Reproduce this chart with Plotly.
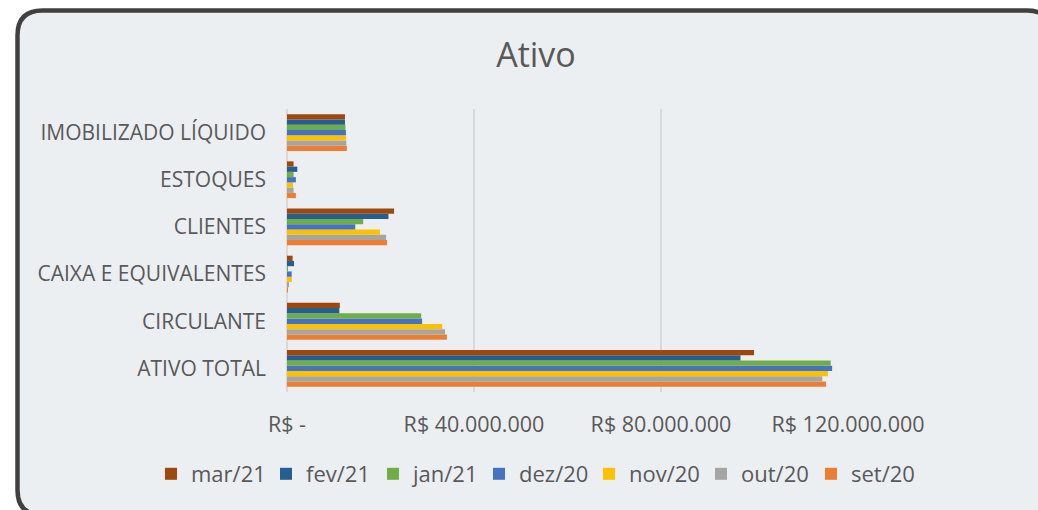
import plotly.graph_objects as go

categories = ["ATIVO TOTAL", "CIRCULANTE", "CAIXA E EQUIVALENTES", "CLIENTES", "ESTOQUES", "IMOBILIZADO LÍQUIDO"]

# values in R$ (order follows categories list)
mar21 = [99.9e6, 11.3e6, 1.2e6, 22.9e6, 1.4e6, 12.4e6]
fev21 = [97.0e6, 11.2e6, 1.5e6, 21.7e6, 2.2e6, 12.4e6]
jan21 = [116.3e6, 28.7e6, 0.05e6, 16.3e6, 1.4e6, 12.5e6]
dez20 = [116.6e6, 28.9e6, 1.0e6, 14.6e6, 1.9e6, 12.6e6]
nov20 = [115.7e6, 33.2e6, 1.05e6, 19.9e6, 1.3e6, 12.6e6]
out20 = [114.5e6, 33.8e6, 0.4e6, 21.2e6, 1.4e6, 12.7e6]
set20 = [115.3e6, 34.2e6, 0.1e6, 21.4e6, 1.9e6, 12.8e6]

series_names = ["mar/21", "fev/21", "jan/21", "dez/20", "nov/20", "out/20", "set/20"]
series_values = [mar21, fev21, jan21, dez20, nov20, out20, set20]
series_colors = ["#9E480E", "#255E91", "#70AD47", "#4472C4", "#FFC000", "#A5A5A5", "#ED7D31"]
legend_widths = [70, 62, 61, 65, 67, 65, 62]

tick_vals = [0, 40e6, 80e6, 120e6]
tick_text = ["R$ -", "R$ 40.000.000", "R$ 80.000.000", "R$ 120.000.000"]

W, H = 1038, 510
L, T = 287, 109
R = W - 848
B = H - 392
PW, PH = W - L - R, H - T - B

def px(x):
    return (x - L) / PW

def py(y):
    return (H - B - y) / PH

FONT = "Open Sans"
TXT = "#595959"

fig = go.Figure()
# add in reverse so mar/21 sits at top of each group
for i in reversed(range(len(series_names))):
    fig.add_trace(go.Bar(
        y=categories, x=series_values[i], name=series_names[i], orientation="h",
        marker=dict(color=series_colors[i], line=dict(width=0)),
        legendrank=i + 1, legendwidth=legend_widths[i],
    ))

# rounded card
x0, y0, x1, y1, r = 17.5, 10.5, 1052, 515, 25
path = (
    f"M {px(x0)},{py(y0 + r)} "
    f"Q {px(x0)},{py(y0)} {px(x0 + r)},{py(y0)} "
    f"L {px(x1 - r)},{py(y0)} "
    f"Q {px(x1)},{py(y0)} {px(x1)},{py(y0 + r)} "
    f"L {px(x1)},{py(y1 - r)} "
    f"Q {px(x1)},{py(y1)} {px(x1 - r)},{py(y1)} "
    f"L {px(x0 + r)},{py(y1)} "
    f"Q {px(x0)},{py(y1)} {px(x0)},{py(y1 - r)} Z"
)
fig.add_shape(type="path", path=path, xref="paper", yref="paper", layer="below",
              fillcolor="#ECEFF2", line=dict(color="#404040", width=4.5))

fig.update_layout(
    width=W, height=H,
    margin=dict(l=L, r=R, t=T, b=B),
    paper_bgcolor="white", plot_bgcolor="rgba(0,0,0,0)",
    barmode="group", bargap=0.22, bargroupgap=0,
    font=dict(family=FONT, color=TXT, size=20),
    title=dict(text="Ativo", x=536 / W, xanchor="center", y=1 - 55 / H, yanchor="middle",
               font=dict(family=FONT, size=34, color=TXT)),
    showlegend=True,
    legend=dict(orientation="h", xref="paper", yref="paper",
                x=px(151), xanchor="left", y=py(474), yanchor="middle",
                font=dict(family=FONT, size=22, color=TXT), bgcolor="rgba(0,0,0,0)",
                itemclick=False, itemdoubleclick=False),
    xaxis=dict(range=[0, 120e6], tickvals=tick_vals, ticktext=tick_text,
               showgrid=True, gridcolor="#D9D9D9", gridwidth=1.5,
               zeroline=True, zerolinecolor="#D9D9D9", zerolinewidth=2,
               showline=False, ticks="", ticklabelstandoff=17,
               tickfont=dict(family=FONT, size=21.5, color=TXT), fixedrange=True),
    yaxis=dict(categoryorder="array", categoryarray=categories,
               showgrid=False, zeroline=False, showline=False, ticks="",
               ticklabelstandoff=20,
               tickfont=dict(family=FONT, size=21, color=TXT), fixedrange=True),
)

fig.write_html("out.html", config={"displayModeBar": False},
               post_script="document.body.style.margin='0';document.body.style.overflow='hidden';")
